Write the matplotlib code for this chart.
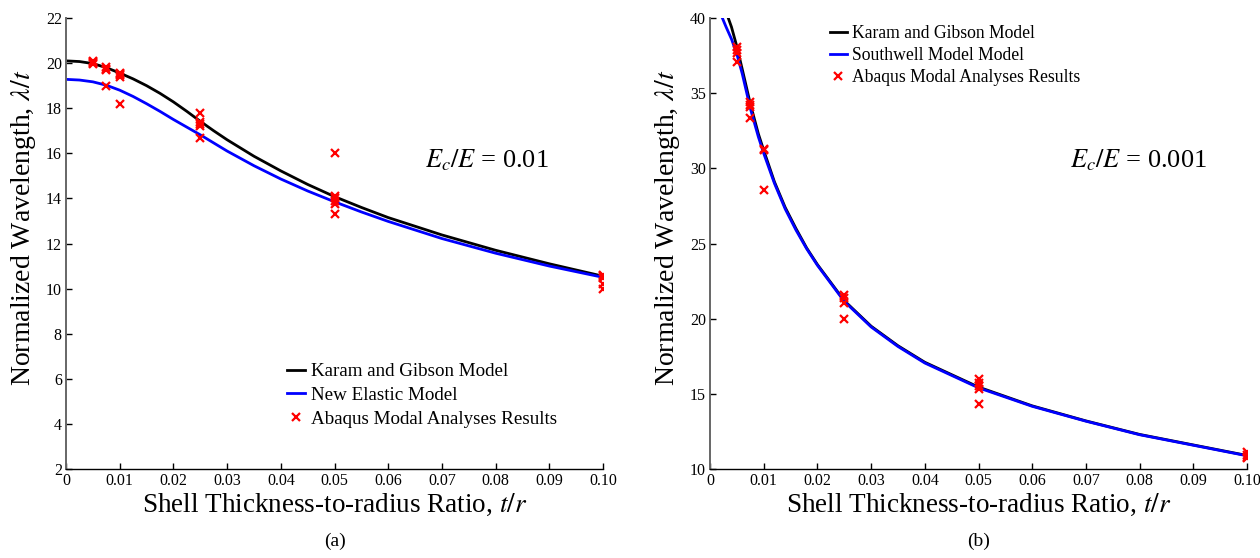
import numpy as np
import matplotlib
matplotlib.use("Agg")
import matplotlib.pyplot as plt

plt.rcParams['font.family'] = ['Liberation Serif', 'DejaVu Serif']
plt.rcParams['mathtext.fontset'] = 'stix'

# ---- panel (a): Ec/E = 0.01 ----
a_kg_x = [0.0, 0.0025, 0.005, 0.0075, 0.01, 0.0125, 0.015, 0.0175, 0.02, 0.0225, 0.025,
          0.0275, 0.03, 0.035, 0.04, 0.045, 0.05, 0.055, 0.06, 0.07, 0.08, 0.09, 0.10]
a_kg_y = [20.1, 20.07, 19.98, 19.8, 19.56, 19.3, 19.0, 18.66, 18.28, 17.86, 17.42,
          17.0, 16.6, 15.87, 15.22, 14.62, 14.08, 13.6, 13.15, 12.38, 11.7, 11.1, 10.55]
a_new_x = [0.0, 0.0025, 0.005, 0.0075, 0.01, 0.0125, 0.015, 0.0175, 0.02, 0.0225, 0.025,
           0.0275, 0.03, 0.035, 0.04, 0.045, 0.05, 0.055, 0.06, 0.07, 0.08, 0.09, 0.10]
a_new_y = [19.28, 19.25, 19.17, 19.02, 18.8, 18.52, 18.2, 17.86, 17.5, 17.16, 16.82,
           16.46, 16.1, 15.45, 14.86, 14.33, 13.85, 13.4, 12.98, 12.22, 11.57, 11.0, 10.5]
a_fem_x = [0.005, 0.005, 0.005, 0.005, 0.0075, 0.0075, 0.0075, 0.0075,
           0.01, 0.01, 0.01, 0.01, 0.01, 0.025, 0.025, 0.025, 0.025, 0.025,
           0.05, 0.05, 0.05, 0.05, 0.05, 0.05, 0.10, 0.10, 0.10, 0.10, 0.10]
a_fem_y = [20.1, 20.05, 20.0, 19.95, 19.82, 19.76, 19.7, 19.0,
           19.58, 19.52, 19.46, 19.4, 18.2, 17.78, 17.4, 17.3, 17.2, 16.68,
           16.0, 14.1, 14.0, 13.9, 13.75, 13.32, 10.62, 10.55, 10.45, 10.2, 10.0]

# ---- panel (b): Ec/E = 0.001 ----
b_kg_x = [0.0034, 0.004, 0.005, 0.006, 0.0075, 0.009, 0.01, 0.012, 0.014, 0.016, 0.018,
          0.02, 0.025, 0.03, 0.035, 0.04, 0.05, 0.06, 0.07, 0.08, 0.09, 0.10]
b_kg_y = [40.0, 39.4, 38.1, 36.6, 34.3, 32.3, 31.2, 29.1, 27.4, 26.0, 24.7,
          23.6, 21.2, 19.5, 18.2, 17.1, 15.45, 14.2, 13.2, 12.3, 11.6, 10.9]
b_sw_x = [0.0023, 0.003, 0.004, 0.005, 0.006, 0.0075, 0.009, 0.01, 0.012, 0.014, 0.016, 0.018,
          0.02, 0.025, 0.03, 0.035, 0.04, 0.05, 0.06, 0.07, 0.08, 0.09, 0.10]
b_sw_y = [40.0, 39.4, 38.6, 37.6, 36.3, 34.0, 32.1, 31.0, 29.0, 27.3, 25.9, 24.65,
          23.55, 21.15, 19.45, 18.15, 17.05, 15.4, 14.17, 13.18, 12.28, 11.58, 10.88]
b_fem_x = [0.005, 0.005, 0.005, 0.005, 0.0075, 0.0075, 0.0075, 0.0075,
           0.01, 0.01, 0.01, 0.025, 0.025, 0.025, 0.025,
           0.05, 0.05, 0.05, 0.05, 0.05, 0.10, 0.10, 0.10, 0.10]
b_fem_y = [38.1, 37.9, 37.7, 37.05, 34.4, 34.2, 34.1, 33.35,
           31.3, 31.2, 28.55, 21.6, 21.4, 21.05, 20.0,
           16.0, 15.7, 15.5, 15.3, 14.3, 11.1, 10.95, 10.8, 10.7]

xticks = [0, 0.01, 0.02, 0.03, 0.04, 0.05, 0.06, 0.07, 0.08, 0.09, 0.10]
xticklabels = ['0', '0.01', '0.02', '0.03', '0.04', '0.05', '0.06', '0.07', '0.08', '0.09', '0.10']

fig = plt.figure(figsize=(12.6, 5.58), dpi=100)
ax1 = fig.add_axes([0.0524, 0.1595, 0.4262, 0.8082])
ax2 = fig.add_axes([0.5635, 0.1595, 0.4262, 0.8082])


def style(ax):
    for s in ['top', 'right']:
        ax.spines[s].set_visible(False)
    ax.spines['left'].set_color('#666666')
    ax.spines['left'].set_linewidth(1.4)
    ax.spines['bottom'].set_color('black')
    ax.spines['bottom'].set_linewidth(1.0)
    ax.tick_params(direction='in', length=4, width=1, labelsize=11.5, pad=3)
    ax.set_xlim(0, 0.1)
    ax.set_xticks(xticks)
    ax.set_xticklabels(xticklabels)
    ax.set_xlabel('Shell Thickness-to-radius Ratio, $t/r$', fontsize=19.5, labelpad=2)
    ax.set_ylabel(r'Normalized Wavelength, $\lambda/t$', fontsize=20)
    ax.yaxis.set_label_coords(-0.052, 0.535)


style(ax1)
ax1.plot(a_kg_x, a_kg_y, color='black', lw=2, label='Karam and Gibson Model')
ax1.plot(a_new_x, a_new_y, color='blue', lw=2, label='New Elastic Model')
ax1.plot(a_fem_x, a_fem_y, 'x', color='red', ms=6, mew=1.6, label='Abaqus Modal Analyses Results')
ax1.set_ylim(2, 22)
ax1.set_yticks(np.arange(2, 23, 2))
ax1.text(0.0669, 15.7, '$E_c/E$ = 0.01', fontsize=19, va='center')
ax1.legend(loc='upper left', bbox_to_anchor=(0.4115, 0.235), frameon=False, fontsize=13.7,
           handlelength=0.95, handletextpad=0.3, labelspacing=0.33, borderpad=0, borderaxespad=0)
ax1.text(0.5, -0.16, '(a)', transform=ax1.transAxes, ha='center', va='center', fontsize=14)

style(ax2)
ax2.plot(b_kg_x, b_kg_y, color='black', lw=2, label='Karam and Gibson Model')
ax2.plot(b_sw_x, b_sw_y, color='blue', lw=2, label='Southwell Model Model')
ax2.plot(b_fem_x, b_fem_y, 'x', color='red', ms=6, mew=1.6, label='Abaqus Modal Analyses Results')
ax2.set_ylim(10, 40)
ax2.set_yticks(np.arange(10, 41, 5))
ax2.text(0.067, 30.55, '$E_c/E$ = 0.001', fontsize=19, va='center')
ax2.legend(loc='upper left', bbox_to_anchor=(0.2235, 0.984), frameon=False, fontsize=12.7,
           handlelength=0.95, handletextpad=0.3, labelspacing=0.29, borderpad=0, borderaxespad=0)
ax2.text(0.5, -0.16, '(b)', transform=ax2.transAxes, ha='center', va='center', fontsize=14)

fig.savefig('out.png', dpi=100)
